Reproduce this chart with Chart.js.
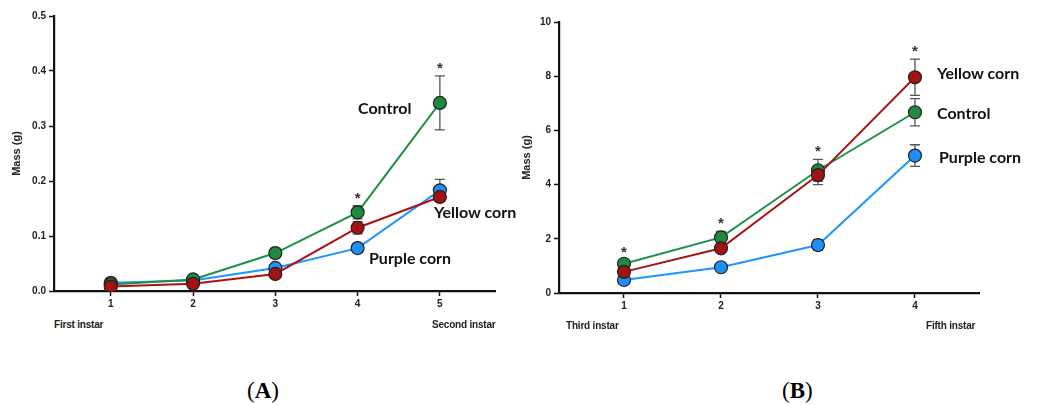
<!DOCTYPE html>
<html>
<head>
<meta charset="utf-8">
<script src="https://cdn.jsdelivr.net/npm/chart.js@4.4.0/dist/chart.umd.min.js"></script>
<style>
  body { margin: 0; background: #fff; width: 1040px; height: 405px; overflow: hidden; position: relative; }
  .box { position: absolute; }
  .lbl { position: absolute; font-family: Lato, "Open Sans", sans-serif; font-weight: bold; font-size: 16px; color: #111; white-space: nowrap; line-height: 1; }
  .instar { position: absolute; font-family: "Liberation Sans Narrow", "Liberation Sans", Arial, sans-serif; font-weight: bold; font-size: 10px; color: #222; white-space: nowrap; line-height: 1; letter-spacing: -0.2px; }
  .panel { position: absolute; font-family: "Liberation Serif", "Times New Roman", serif; font-size: 23px; color: #000; line-height: 1; }
  .panel b { font-weight: bold; }
</style>
</head>
<body>
<div class="box" style="left:0;top:0;width:520px;height:310px"><canvas id="graficoA"></canvas></div>
<div class="box" style="left:500px;top:0;width:540px;height:312px"><canvas id="graficoB"></canvas></div>

<div class="lbl" style="left:358px;top:100px">Control</div>
<div class="lbl" style="left:434px;top:204px">Yellow corn</div>
<div class="lbl" style="left:369px;top:250px">Purple corn</div>
<div class="instar" style="left:54px;top:320px">First instar</div>
<div class="instar" style="left:432px;top:320px">Second instar</div>

<div class="lbl" style="left:937px;top:65px">Yellow corn</div>
<div class="lbl" style="left:937px;top:105px">Control</div>
<div class="lbl" style="left:939px;top:149px">Purple corn</div>
<div class="instar" style="left:566px;top:321px">Third instar</div>
<div class="instar" style="left:926px;top:321px">Fifth instar</div>

<div class="panel" style="left:247px;top:379px">(<b>A</b>)</div>
<div class="panel" style="left:782px;top:379px">(<b>B</b>)</div>

<script>
// datos panel A (primer a segundo instar)
const etapasA = [1, 2, 3, 4, 5];
const controlA = [0.012, 0.021, 0.069, 0.143, 0.342];
const amarilloA = [0.008, 0.013, 0.031, 0.115, 0.171];
const moradoA = [0.015, 0.019, 0.042, 0.078, 0.183];
const controlErrA = [0.003, 0.003, 0.009, 0.012, 0.049];
const amarilloErrA = [0.002, 0.003, 0.004, 0.011, 0.008];
const moradoErrA = [0.003, 0.002, 0.004, 0.008, 0.020];
const sigA = ['', '', '', '*', '*'];
const ticksYA = [0, 0.1, 0.2, 0.3, 0.4, 0.5];

// datos panel B (tercer a quinto instar)
const etapasB = [1, 2, 3, 4];
const controlB = [1.08, 2.05, 4.53, 6.67];
const amarilloB = [0.78, 1.65, 4.35, 7.96];
const moradoB = [0.48, 0.95, 1.77, 5.07];
const controlErrB = [0.12, 0.22, 0.40, 0.50];
const amarilloErrB = [0.10, 0.15, 0.35, 0.67];
const moradoErrB = [0.08, 0.10, 0.20, 0.40];
const sigB = ['*', '*', '*', '*'];
const ticksYB = [0, 2, 4, 6, 8, 10];

const verde = '#1f9146';
const rojo = '#a81414';
const azul = '#1e96ff';

function serie(label, xs, ys, color, fill) {
    return {
        label: label,
        data: xs.map((x, i) => ({ x: x, y: ys[i] })),
        borderColor: color,
        backgroundColor: fill,
        borderWidth: 2,
        pointRadius: 6.5,
        pointBorderColor: '#222',
        pointBorderWidth: 1.2,
        pointBackgroundColor: fill,
        fill: false,
        tension: 0
    };
}

// barras de error y asteriscos
const barrasError = {
    id: 'barrasError',
    beforeDatasetsDraw(chart, args, opts) {
        const ctx = chart.ctx;
        const xS = chart.scales.x, yS = chart.scales.y;
        ctx.save();
        ctx.strokeStyle = '#555';
        ctx.lineWidth = 1.3;
        chart.data.datasets.forEach((ds, d) => {
            const errs = opts.errores[d];
            ds.data.forEach((p, i) => {
                const px = xS.getPixelForValue(p.x);
                const top = yS.getPixelForValue(p.y + errs[i]);
                const bot = yS.getPixelForValue(p.y - errs[i]);
                ctx.beginPath();
                ctx.moveTo(px, top); ctx.lineTo(px, bot);
                ctx.moveTo(px - 5, top); ctx.lineTo(px + 5, top);
                ctx.moveTo(px - 5, bot); ctx.lineTo(px + 5, bot);
                ctx.stroke();
            });
        });
        // asteriscos encima de la barra mas alta
        ctx.fillStyle = '#333';
        ctx.font = 'bold 15px "Liberation Sans", Arial, sans-serif';
        ctx.textAlign = 'center';
        ctx.textBaseline = 'alphabetic';
        opts.sig.forEach((s, i) => {
            if (!s) return;
            let maxV = -Infinity, xv = 0;
            chart.data.datasets.forEach((ds, d) => {
                const v = ds.data[i].y + opts.errores[d][i];
                xv = ds.data[i].x;
                if (v > maxV) maxV = v;
            });
            const px = xS.getPixelForValue(xv);
            const py = yS.getPixelForValue(maxV);
            ctx.fillText(s, px, py - 3);
        });
        ctx.restore();
    }
};

function opciones(xMin, xMax, xTicks, yMax, yTicks, yWidth, titlePad, padRight, padTop, decimales, errores, sig) {
    return {
        responsive: true,
        maintainAspectRatio: false,
        animation: false,
        layout: { padding: { left: 0, right: padRight, top: padTop, bottom: 0 } },
        plugins: {
            legend: { display: false },
            tooltip: { enabled: false },
            barrasError: { errores: errores, sig: sig }
        },
        scales: {
            x: {
                type: 'linear',
                min: xMin,
                max: xMax,
                afterBuildTicks: (s) => { s.ticks = xTicks.map(v => ({ value: v })); },
                afterFit: (s) => { s.height = 19; },
                grid: { drawOnChartArea: false, drawTicks: true, tickLength: 5, tickColor: '#111', tickWidth: 1.5 },
                border: { display: true, color: '#111', width: 2.2 },
                ticks: {
                    color: '#222',
                    padding: 2,
                    font: { family: '"Liberation Sans Narrow", "Liberation Sans", Arial', size: 10, weight: 'bold' },
                    maxRotation: 0
                }
            },
            y: {
                min: 0,
                max: yMax,
                afterBuildTicks: (s) => { s.ticks = yTicks.map(v => ({ value: v })); },
                afterFit: (s) => { s.width = yWidth; },
                grid: { drawOnChartArea: false, drawTicks: true, tickLength: 5, tickColor: '#111', tickWidth: 1.5 },
                border: { display: true, color: '#111', width: 2.2 },
                title: {
                    display: true,
                    text: 'Mass (g)',
                    color: '#222',
                    padding: { top: titlePad, bottom: 0 },
                    font: { family: '"Liberation Sans", Arial', size: 11, weight: 'bold' }
                },
                ticks: {
                    color: '#222',
                    padding: 3,
                    font: { family: '"Liberation Sans Narrow", "Liberation Sans", Arial', size: 10, weight: 'bold' },
                    callback: (v) => v.toFixed(decimales)
                }
            }
        }
    };
}

const ctxA = document.getElementById('graficoA');
const ctxB = document.getElementById('graficoB');

// panel A
let chartA = new Chart(ctxA, {
    type: 'line',
    data: {
        datasets: [
            serie('Yellow corn', etapasA, amarilloA, rojo, '#a31212'),
            serie('Control', etapasA, controlA, verde, '#1e8a3e'),
            serie('Purple corn', etapasA, moradoA, azul, '#1e90f5')
        ]
    },
    options: opciones(0.31, 5.67, etapasA, 0.5, ticksYA, 54, 10, 25, 16, 1,
        [amarilloErrA, controlErrA, moradoErrA], sigA),
    plugins: [barrasError]
});

// panel B
let chartB = new Chart(ctxB, {
    type: 'line',
    data: {
        datasets: [
            serie('Yellow corn', etapasB, amarilloB, rojo, '#a31212'),
            serie('Control', etapasB, controlB, verde, '#1e8a3e'),
            serie('Purple corn', etapasB, moradoB, azul, '#1e90f5')
        ]
    },
    options: opciones(0.33, 4.66, etapasB, 10, ticksYB, 59, 20, 61, 22, 0,
        [amarilloErrB, controlErrB, moradoErrB], sigB),
    plugins: [barrasError]
});
</script>
</body>
</html>
